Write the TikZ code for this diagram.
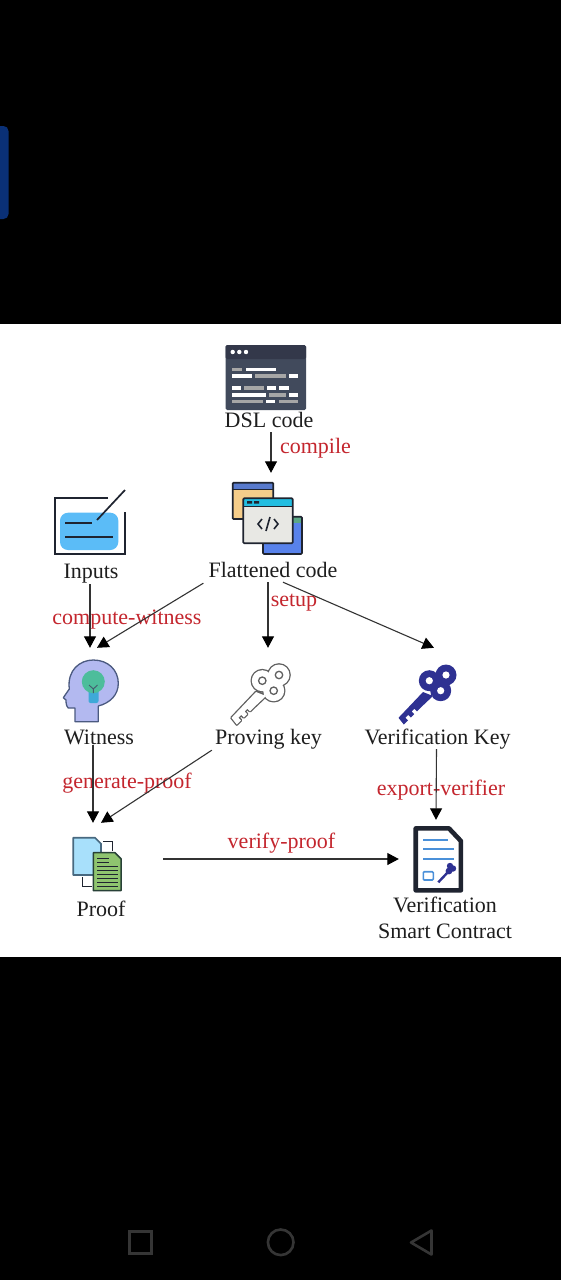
\documentclass[tikz,border=0pt]{standalone}
\usepackage{fontspec}
\setmainfont{Liberation Serif}
\usetikzlibrary{arrows.meta}
\definecolor{txt}{HTML}{1E1E1E}
\definecolor{redt}{HTML}{C4262E}
\definecolor{conn}{HTML}{333333}
\definecolor{navy}{HTML}{2E3192}
\definecolor{chrome}{HTML}{353535}
\definecolor{slateA}{HTML}{33384A}
\definecolor{slateB}{HTML}{414A5C}
\definecolor{ink}{HTML}{1F2430}
\tikzset{
  lab/.style={anchor=base,inner xsep=0pt,inner ysep=0pt,text height=16pt,text depth=6pt,text=txt,font=\fontsize{22}{26}\selectfont},
  edgelab/.style={lab,text=redt},
  iconbox/.style={inner sep=0pt,minimum width=#1},
  arr/.style={draw=conn,line width=1.1pt,-{Triangle[length=11.5pt,width=12pt,color=black]}},
  win/.style={draw=ink,line width=1.7pt,rounded corners=1pt},
  codeW/.style={fill=white,draw=none},
  codeG/.style={fill=gray!70,draw=none},
}
\def\keybody{(423,692) -- (398.5,717.8) -- (403.8,724.5) -- (408,720.3) -- (405.4,717.7) -- (408.2,714.9) -- (410.8,717.5) -- (414.2,714.1) -- (411.6,711.5) -- (414.4,708.7) -- (417,711.3) -- (420.5,707.8) -- (433,696) -- cycle (429.3,680.7) circle (10.5) (446,675) circle (10.5) (440.7,690.7) circle (10.5)}
\begin{document}
\begin{tikzpicture}[x=1pt,y=-1pt]
\useasboundingbox (0,0) rectangle (561,1280);
% screen
\fill[black] (0,0) rectangle (561,1280);
\fill[white] (0,324) rectangle (561,957);
\fill[color={rgb,255:red,10;green,48;blue,118},rounded corners=5pt] (-8,126) rectangle (8.5,219);
\draw[chrome,line width=2.6pt] (129.5,1231.5) rectangle (151.5,1253.5);
\draw[chrome,line width=2.6pt] (280.7,1242.3) circle (12.8);
\draw[chrome,line width=2.6pt,line join=round] (431.5,1230.5) -- (431.5,1254.5) -- (411,1242.5) -- cycle;

% DSL icon
\fill[slateB,rounded corners=1.5pt] (225.7,345) rectangle (306,410);
\fill[slateA,rounded corners=1.5pt] (225.7,345) rectangle (306,359);
\foreach \x in {232.7,239.3,246} \fill[white] (\x,352) circle (2.2);
\fill[codeG] (232,367.5) rectangle (242,371);
\fill[codeW] (246,367.5) rectangle (276,371);
\fill[codeW] (232,374) rectangle (252,377.5);
\fill[codeG] (255,374) rectangle (286,377.5);
\fill[codeW] (289,374) rectangle (298,377.5);
\fill[codeW] (232,386) rectangle (241,389.5);
\fill[codeG] (244,386) rectangle (264,389.5);
\fill[codeW] (267,386) rectangle (276,389.5);
\fill[codeW] (279,386) rectangle (289,389.5);
\fill[codeW] (232,393) rectangle (266,396.5);
\fill[codeG] (269,393) rectangle (286,396.5);
\fill[codeW] (289,393) rectangle (298,396.5);
\fill[codeG] (232,399.5) rectangle (263,403);
\fill[codeW] (266,399.5) rectangle (275,403);
\fill[codeG] (279,399.5) rectangle (298,403);

% Flattened icon
\fill[color={rgb,255:red,245;green,205;blue,138}] (232.7,482.7) rectangle (273.3,519);
\fill[color={rgb,255:red,88;green,122;blue,205}] (232.7,482.7) rectangle (273.3,489.5);
\draw[win] (232.7,482.7) rectangle (273.3,519);
\draw[ink,line width=1.3pt] (232.7,489.5) -- (273.3,489.5);
\fill[color={rgb,255:red,88;green,130;blue,235}] (263,516.7) rectangle (302,554);
\fill[color={rgb,255:red,92;green,168;blue,135}] (263,516.7) rectangle (302,522.7);
\draw[win] (263,516.7) rectangle (302,554);
\fill[color={rgb,255:red,232;green,232;blue,228}] (243.3,498.3) rectangle (292.7,543.3);
\fill[color={rgb,255:red,35;green,190;blue,225}] (243.3,498.3) rectangle (292.7,506.7);
\draw[win] (243.3,498.3) rectangle (292.7,543.3);
\draw[ink,line width=1.2pt] (243.3,506.7) -- (292.7,506.7);
\fill[ink] (247,501) rectangle (252,503.5) (254,501) rectangle (259,503.5);
\draw[ink,line width=1.6pt] (262,519) -- (258,524) -- (262,529) (270,517) -- (266,531) (274,519) -- (278,524) -- (274,529);

% Inputs icon
\draw[color=ink,line width=1.8pt] (108,498.3) -- (55.3,498.3) -- (55.3,554.3) -- (125.3,554.3) -- (125.3,511.7);
\fill[color={rgb,255:red,91;green,188;blue,247},rounded corners=8pt] (60,512.7) rectangle (118.3,550);
\draw[color=ink,line width=1.7pt] (65,523.3) -- (92.3,523.3) (65,536.7) -- (112.7,536.7);
\draw[color=ink,line width=1.7pt] (97,520) -- (125,490);

% Witness icon
\draw[draw={rgb,255:red,75;green,90;blue,128},fill={rgb,255:red,179;green,185;blue,240},line width=1.3pt,line join=round]
 (98.3,721.7) -- (75,721.7) -- (75,708) -- (68.3,708) .. controls (66,706) and (66,702) .. (66,700) -- (63.3,697.7) -- (69.3,689) .. controls (67,670) and (80,660) .. (93.3,660) .. controls (108,660) and (118.3,670) .. (118.3,683.3) .. controls (118.3,695) and (110,703) .. (98.3,706) -- cycle;
\fill[color={rgb,255:red,63;green,169;blue,216},rounded corners=2pt] (88.5,690) rectangle (98.5,703);
\fill[color={rgb,255:red,77;green,189;blue,155}] (93.3,681.7) circle (11.5);
\draw[color={rgb,255:red,70;green,90;blue,110},line width=.9pt] (89,685) -- (93.3,689) -- (97.5,685) (93.3,689) -- (93.3,693);

% Proving key icon
\begin{scope}[xshift=-167pt]
\path[fill=gray!75!black,draw=gray!75!black,line width=2.6pt,line join=round] \keybody;
\path[fill=white] \keybody;
\foreach \c in {(429.3,680.7),(446,675),(440.7,690.7)} \draw[gray!75!black,line width=1.3pt,fill=white] \c circle (3.7);
\end{scope}

% Verification key icon
\path[fill=navy] \keybody;
\foreach \c in {(429.3,680.7),(446,675),(440.7,690.7)} \fill[white] \c circle (3.6);

% Proof icon
\draw[ink,line width=1.5pt] (103.3,841.7) -- (112.7,841.7) -- (112.7,850.7) (82.7,877.3) -- (82.7,886.7) -- (91.7,886.7);
\draw[draw={rgb,255:red,72;green,105;blue,128},fill={rgb,255:red,168;green,224;blue,251},line width=1.7pt,line join=round] (73.3,837.7) -- (95,837.7) -- (101,843.7) -- (101,875) -- (73.3,875) -- cycle;
\draw[draw={rgb,255:red,40;green,65;blue,55},fill={rgb,255:red,143;green,196;blue,111},line width=1.5pt,line join=round] (93.3,852.7) -- (115,852.7) -- (121,858.7) -- (121,890.7) -- (93.3,890.7) -- cycle;
\foreach \y in {858.5,862.5} \draw[ink,line width=1.1pt] (97,\y) -- (109,\y);
\foreach \y in {866.5,870.5,874.5,878.5,882.5,886.5} \draw[ink,line width=1.1pt] (97,\y) -- (117.5,\y);

% Contract icon
\draw[color=ink,fill=white,line width=4.6pt,line join=round] (415.7,828.4) -- (449,828.4) -- (460.9,841) -- (460.9,890.3) -- (415.7,890.3) -- cycle;
\draw[color={rgb,255:red,74;green,144;blue,217},line width=1.8pt] (423.3,840) -- (448.3,840) (423.3,849.3) -- (454,849.3) (423.3,859) -- (454,859);
\draw[color={rgb,255:red,74;green,144;blue,217},line width=1.6pt,rounded corners=1pt] (423.3,871.7) rectangle (433.3,880);
\draw[navy,line width=2.4pt] (438.3,882.3) -- (449,871);
\fill[navy] (449,871) circle (3.4) (453,868.5) circle (3.2) (450,866) circle (3.2);

% Layout boxes carrying the icons' connection points
\node[iconbox=80pt,minimum height=66pt] (dsl) at (266,377) {};
\node[iconbox=70pt,minimum height=81pt] (flat) at (268,513.5) {};
\node[iconbox=70pt,minimum height=57pt] (inputs) at (91,526) {};
\node[iconbox=56pt,minimum height=74pt] (witness) at (91,685) {};
\node[iconbox=60pt,minimum height=84pt] (prov) at (263,690) {};
\node[iconbox=60pt,minimum height=84pt] (vk) at (428,690) {};
\node[iconbox=50pt,minimum height=72pt] (proof) at (97,859) {};
\node[iconbox=78pt,minimum height=78pt] (contract) at (438,859) {};

% Labels
\node[lab] (lDSL) at (269,427) {DSL code};
\node[lab] (lFlat) at (273,577) {Flattened code};
\node[lab] (lInputs) at (91,578) {Inputs};
\node[lab] (lWitness) at (99,744) {Witness};
\node[lab] (lProv) at (268.5,744) {Proving key};
\node[lab] (lVK) at (437.5,744) {Verification Key};
\node[lab] (lProof) at (101,916) {Proof};
\node[lab] (lContractA) at (445,912) {Verification};
\node[lab] (lContractB) at (445,938) {Smart Contract};
\node[edgelab] (eCompile) at (315.5,453) {compile};
\node[edgelab] (eWitness) at (127,624) {compute-witness};
\node[edgelab] (eSetup) at (294,606) {setup};
\node[edgelab] (eProof) at (127,788) {generate-proof};
\node[edgelab] (eExport) at (441,795) {export-verifier};
\node[edgelab] (eVerify) at (281.5,848) {verify-proof};

% Connectors
\draw[arr] ([xshift=2pt,yshift=1pt]lDSL.south) -- ([xshift=3pt]flat.north);
\draw[arr] ([xshift=-1pt]lInputs.south) -- ([xshift=-1pt]witness.north);
\draw[arr] ([xshift=-5pt]lFlat.south west) -- ([xshift=6pt]witness.north);
\draw[arr] ([xshift=-5pt,yshift=1pt]lFlat.south) -- ([xshift=5pt]prov.north);
\draw[arr] ([xshift=10pt,yshift=1pt]lFlat.south) -- ([xshift=6pt]vk.north);
\draw[arr] ([xshift=-6pt,yshift=5pt]lWitness.south) -- ([xshift=-4pt]proof.north);
\draw[arr] ([xshift=-3pt]lProv.south west) -- ([xshift=4pt]proof.north);
\draw[arr] ([xshift=41pt]proof.east) -- (contract.west);
\draw[arr] ([xshift=-1pt,yshift=1pt]lVK.south) -- ([xshift=-2pt]contract.north);
\end{tikzpicture}
\end{document}
